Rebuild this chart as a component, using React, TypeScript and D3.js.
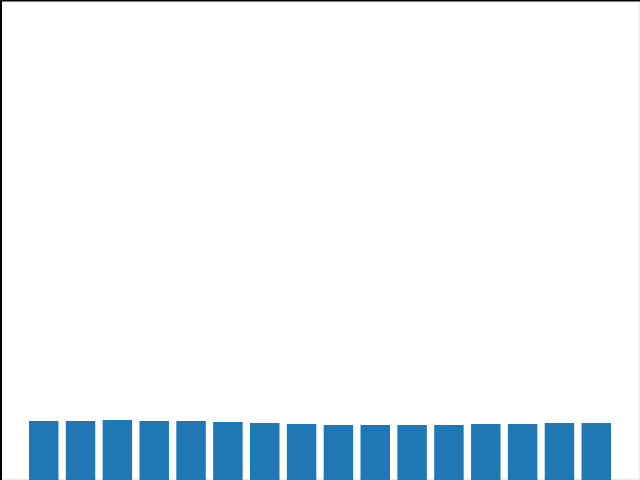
import React, { useRef, useEffect } from 'react';
import * as d3 from 'd3';

// bar heights (pixels above the bottom edge)
const categories = ['1', '2', '3', '4', '5', '6', '7', '8', '9', '10', '11', '12', '13', '14', '15', '16'];
const values = [59, 59, 60, 59, 59, 58, 57, 56, 55, 55, 55, 55, 56, 56, 57, 57];

const App = () => {
  const svgRef = useRef(null);
  const width = 640;
  const height = 480;

  useEffect(() => {
    const svg = d3.select(svgRef.current);
    svg.selectAll('*').remove();

    const x = d3.scaleBand()
      .domain(categories)
      .range([21.6, 618.4])
      .padding(0.2);

    const y = d3.scaleLinear()
      .domain([0, 480])
      .range([height, 0]);

    svg.append('rect')
      .attr('width', width)
      .attr('height', height)
      .attr('fill', '#fff');

    // faint right and bottom edges
    svg.append('rect')
      .attr('x', width - 1.5).attr('y', 0)
      .attr('width', 1.5).attr('height', height)
      .attr('fill', '#eeeeee');
    svg.append('rect')
      .attr('x', 0).attr('y', height - 1.5)
      .attr('width', width).attr('height', 1.5)
      .attr('fill', '#eeeeee');

    svg.selectAll('.bar')
      .data(values)
      .enter().append('rect')
      .attr('class', 'bar')
      .attr('x', (d, i) => x(categories[i]))
      .attr('y', d => y(d))
      .attr('width', x.bandwidth())
      .attr('height', d => y(0) - y(d))
      .attr('fill', '#1f77b4');

    // dark left and top edges
    svg.append('rect')
      .attr('x', 0).attr('y', 0)
      .attr('width', 2).attr('height', height)
      .attr('fill', '#000');
    svg.append('rect')
      .attr('x', 0).attr('y', 0)
      .attr('width', width).attr('height', 1.5)
      .attr('fill', '#000');
  }, []);

  return (
    <svg
      ref={svgRef}
      width={width}
      height={height}
      style={{ position: 'fixed', left: 0, top: 0, display: 'block' }}
    />
  );
};

export default App;
